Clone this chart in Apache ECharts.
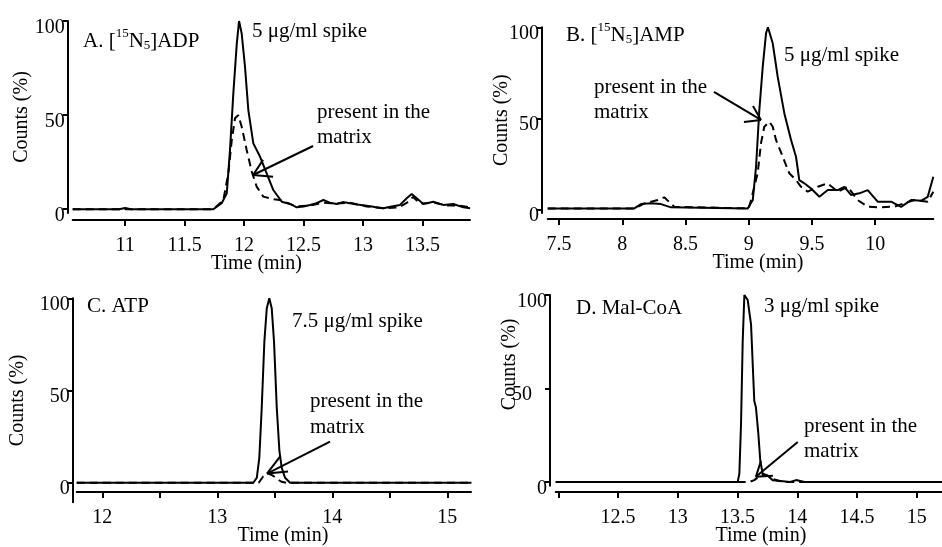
<!DOCTYPE html>
<html><head><meta charset="utf-8">
<script src="https://cdn.jsdelivr.net/npm/echarts@6/dist/echarts.min.js"></script>
<style>html,body{margin:0;padding:0;background:#fff}#c{width:942px;height:547px}</style>
</head><body><div id="c"></div>
<script>
// ---------- Panel A: [15N5]ADP ----------
const aSpikeT = [10.56, 10.95, 11.0, 11.05, 11.742, 11.812, 11.855, 11.882, 11.91, 11.939, 11.958, 11.98, 12.008, 12.036, 12.078, 12.134, 12.19, 12.246, 12.317, 12.387, 12.443, 12.5, 12.555, 12.6, 12.667, 12.72, 12.779, 12.83, 12.89, 12.95, 13.031, 13.1, 13.171, 13.24, 13.311, 13.367, 13.409, 13.451, 13.507, 13.591, 13.675, 13.759, 13.843, 13.9];
const aSpikeY = [0, 0, 0.7, 0, 0, 3.2, 8.5, 31.5, 61.6, 88, 100, 93.5, 75.7, 52.7, 35, 28, 19.1, 10.2, 4, 2.8, 1, 1.5, 2.3, 3, 4.9, 3.5, 2.8, 3.8, 3.2, 2.5, 1.9, 1.2, 0.5, 1.5, 2.3, 5.8, 8.1, 5.8, 2.8, 4, 2.3, 2.8, 1, 0.5];
const aMatrixT = [10.56, 11.742, 11.826, 11.868, 11.897, 11.924, 11.952, 11.98, 12.022, 12.065, 12.106, 12.162, 12.233, 12.30, 12.44, 12.56, 12.67, 12.78, 12.89, 13.03, 13.17, 13.3, 13.37, 13.42, 13.48, 13.59, 13.7, 13.8, 13.9];
const aMatrixY = [0, 0, 4.9, 19, 36.8, 48.3, 50, 43.9, 31.5, 20, 12, 6.7, 5.5, 4.9, 1.5, 2, 3.5, 3, 3.5, 1.5, 0.5, 1, 3.5, 6.5, 3, 3.5, 2, 2, 1];
const aTicks = [11, 11.5, 12, 12.5, 13, 13.5];
const aLabels = [11, 11.5, 12, 12.5, 13, 13.5];

// ---------- Panel B: [15N5]AMP ----------
const bSpikeT = [7.41, 8.095, 8.148, 8.227, 8.306, 8.385, 8.992, 9.032, 9.058, 9.084, 9.111, 9.137, 9.152, 9.19, 9.229, 9.282, 9.335, 9.374, 9.4, 9.44, 9.493, 9.559, 9.625, 9.704, 9.756, 9.809, 9.875, 9.941, 10.02, 10.126, 10.205, 10.284, 10.363, 10.416, 10.46];
const bSpikeY = [0.5, 0.5, 2.9, 3.3, 2.9, 1.1, 0.5, 5.1, 23.4, 54.6, 78.4, 96.7, 100, 91.2, 72.9, 52.7, 38.1, 28.9, 16.1, 14.3, 11.5, 6.9, 10.6, 10.6, 12.4, 7.9, 8.8, 10.6, 4.2, 4.2, 1.4, 5.1, 4.7, 6.9, 17.9];
const bMatrixT = [7.41, 8.1, 8.175, 8.28, 8.332, 8.411, 9.0, 9.018, 9.071, 9.097, 9.123, 9.163, 9.19, 9.216, 9.269, 9.321, 9.374, 9.414, 9.467, 9.546, 9.625, 9.704, 9.783, 9.862, 9.941, 10.047, 10.152, 10.23, 10.31, 10.416, 10.46];
const bMatrixY = [0.5, 0.5, 3.3, 5.1, 6.6, 1.4, 0.5, 5.1, 19.8, 36.3, 45.4, 48.1, 45.4, 38.1, 28.9, 19.8, 16.1, 12.4, 9.7, 12.4, 14.3, 9.7, 12.4, 5.1, 1.5, 1.1, 1.5, 3.3, 5.1, 4.2, 9.7];
const bTicks = [7.5, 8, 8.5, 9, 9.5, 10];
const bLabels = [7.5, 8, 8.5, 9, 9.5, 10];

// ---------- Panel C: ATP ----------
const cSpikeT = [11.777, 13.313, 13.343, 13.365, 13.386, 13.409, 13.43, 13.452, 13.473, 13.493, 13.517, 13.54, 13.56, 13.589, 13.632, 15.21];
const cSpikeY = [0, 0, 2.7, 13.5, 40.5, 76.5, 94.6, 100, 94.6, 76.5, 40.5, 17.1, 8.1, 2.7, 0, 0];
const cMatrixT = [11.777, 13.36, 13.40, 13.44, 13.48, 13.52, 13.56, 13.6, 15.21];
const cMatrixY = [0, 0, 3.5, 5, 4, 2, 0.5, 0, 0];
const cTicks = [12, 12.5, 13, 13.5, 14, 14.5, 15];
const cLabels = [12, 13, 14, 15];

// ---------- Panel D: Mal-CoA ----------
const dSpikeT = [11.978, 13.501, 13.515, 13.529, 13.543, 13.557, 13.585, 13.613, 13.627, 13.64, 13.654, 13.674, 13.69, 13.71, 13.752, 13.794, 13.86, 13.94, 13.99, 14.06, 15.211];
const dSpikeY = [0, 0, 4.4, 31, 75.2, 100, 97.3, 84.1, 62.8, 43.3, 39.8, 25.7, 11.5, 4.4, 3.5, 0.9, 0.5, 0, 1, 0, 0];
const dMatrixT = [11.978, 13.6, 13.64, 13.68, 13.72, 13.76, 13.8, 13.85, 13.9, 15.211];
const dMatrixY = [0, 0, 1, 3, 4, 3, 1.5, 0.5, 0, 0];
const dTicks = [12, 12.5, 13, 13.5, 14, 14.5, 15];
const dLabels = [12.5, 13, 13.5, 14, 14.5, 15];

const yTicks = [0, 50, 100];

// annotation arrows (data coordinates): [tail, tip, barb1, barb2]
const arrowA = [[12.58, 33.6], [12.076, 18.2], [12.16, 26.2], [12.244, 17.2]];
const arrowB = [[8.725, 64.5], [9.097, 49.1], [9.034, 56.8], [8.962, 48.0]];
const arrowC = [[13.98, 22.3], [13.432, 5.0], [13.545, 14.2], [13.615, 6.1]];
const arrowD = [[14.004, 21.4], [13.653, 2.8], [13.696, 11.3], [13.796, 3.3]];

const FONT = '"Liberation Serif", "Times New Roman", serif';
const FS = 20;
const TF = '21px ' + FONT;

function pairs(t, y) { return t.map((v, i) => [v, y[i]]); }
function arrowLines(a) {
  return [
    [{ coord: a[0] }, { coord: a[1] }],
    [{ coord: a[1] }, { coord: a[2] }],
    [{ coord: a[1] }, { coord: a[3] }]
  ];
}

const panels = [
  { grid: { left: 72.7, top: 21, width: 397.3, height: 192 }, xmin: 10.56, xmax: 13.899, ymin: -2, yOff: 5, xOff: 7, yNameGap: 36, xNamePad: [0, 30, 0, 0],
    spike: pairs(aSpikeT, aSpikeY), matrix: pairs(aMatrixT, aMatrixY), ticks: aTicks, labels: aLabels, arrow: arrowA },
  { grid: { left: 547.7, top: 27.3, width: 385.6, height: 185.7 }, xmin: 7.41, xmax: 10.46, ymin: -2, yOff: 5.7, xOff: 6, yNameGap: 30, xNamePad: [0, 0, 0, 35],
    spike: pairs(bSpikeT, bSpikeY), matrix: pairs(bMatrixT, bMatrixY), ticks: bTicks, labels: bLabels, arrow: arrowB },
  { grid: { left: 76.7, top: 298.3, width: 394.3, height: 204.7 }, xmin: 11.777, xmax: 15.206, ymin: -10.6, yOff: 4, xOff: -10.3, yNameGap: 45, xNamePad: [0, 0, 0, 18],
    spike: pairs(cSpikeT, cSpikeY), matrix: pairs(cMatrixT, cMatrixY), ticks: cTicks, labels: cLabels, arrow: arrowC },
  { grid: { left: 555.7, top: 295, width: 386.3, height: 192 }, xmin: 11.978, xmax: 15.211, ymin: -2, yOff: 5.7, xOff: 6.3, yNameGap: 30, xNamePad: [0, 0, 0, 24], yNamePad: [0, 0, 0, 52], shiftMid: true,
    spike: pairs(dSpikeT, dSpikeY), matrix: pairs(dMatrixT, dMatrixY), ticks: dTicks, labels: dLabels, arrow: arrowD }
];

const axLine = { show: true, onZero: false, lineStyle: { color: '#000', width: 2 } };
const labRich = {
  n: { fontFamily: FONT, fontSize: FS, color: '#000' },
  far: { fontFamily: FONT, fontSize: FS, color: '#000', padding: [0, 15, 0, 0] }
};
const option = {
  animation: false,
  backgroundColor: '#fff',
  grid: panels.map(p => Object.assign({ containLabel: false }, p.grid)),
  xAxis: panels.map((p, i) => ({
    type: 'value', gridIndex: i, min: p.xmin, max: p.xmax, position: 'bottom', offset: p.xOff,
    axisLine: axLine,
    axisTick: { show: true, length: 6, lineStyle: { color: '#000', width: 2 }, customValues: p.ticks },
    axisLabel: { customValues: p.labels, color: '#000', fontFamily: FONT, fontSize: FS, margin: 16, showMinLabel: true, showMaxLabel: true },
    splitLine: { show: false },
    name: 'Time (min)', nameLocation: 'middle', nameGap: 34, nameMoveOverlap: false,
    nameTextStyle: { color: '#000', fontFamily: FONT, fontSize: FS, padding: p.xNamePad }
  })),
  yAxis: panels.map((p, i) => ({
    type: 'value', gridIndex: i, min: p.ymin, max: 100, position: 'left', offset: p.yOff,
    axisLine: axLine,
    axisTick: { show: true, length: 5, lineStyle: { color: '#000', width: 2 }, customValues: yTicks },
    axisLabel: { customValues: yTicks, color: '#000', fontFamily: FONT, fontSize: FS, margin: 3, verticalAlign: 'top', lineHeight: 13,
      formatter: v => (p.shiftMid && v === 50) ? '{far|' + v + '}' : '{n|' + v + '}', rich: labRich },
    splitLine: { show: false },
    name: 'Counts (%)', nameLocation: 'middle', nameGap: p.yNameGap, nameMoveOverlap: false,
    nameTextStyle: { color: '#000', fontFamily: FONT, fontSize: FS, padding: p.yNamePad || 0 }
  })),
  series: panels.flatMap((p, i) => [
    { type: 'line', xAxisIndex: i, yAxisIndex: i, data: p.spike, symbol: 'none', clip: true,
      lineStyle: { color: '#000', width: 2 } },
    { type: 'line', xAxisIndex: i, yAxisIndex: i, data: p.matrix, symbol: 'none', clip: true,
      lineStyle: { color: '#000', width: 2, type: [8, 5] },
      markLine: { silent: true, symbol: ['none', 'none'], label: { show: false },
        lineStyle: { color: '#000', width: 2, type: 'solid' }, emphasis: { disabled: true },
        data: arrowLines(p.arrow) } }
  ]),
  graphic: [
    { type: 'text', left: 83, top: 25, style: { text: '{n|A. [}{sup|15}{n|N}{sub|5}{n|]ADP}', rich: richT() } },
    { type: 'text', left: 566, top: 19, style: { text: '{n|B. [}{sup|15}{n|N}{sub|5}{n|]AMP}', rich: richT() } },
    { type: 'text', left: 87, top: 296, style: { text: 'C. ATP', font: TF, fill: '#000' } },
    { type: 'text', left: 576, top: 298, style: { text: 'D. Mal-CoA', font: TF, fill: '#000' } },
    { type: 'text', left: 252, top: 21, style: { text: '5 μg/ml spike', font: TF, fill: '#000' } },
    { type: 'text', left: 784, top: 45, style: { text: '5 μg/ml spike', font: TF, fill: '#000' } },
    { type: 'text', left: 292, top: 311, style: { text: '7.5 μg/ml spike', font: TF, fill: '#000' } },
    { type: 'text', left: 764, top: 296, style: { text: '3 μg/ml spike', font: TF, fill: '#000' } },
    { type: 'text', left: 317, top: 100, style: { text: 'present in the\nmatrix', font: TF, fill: '#000', lineHeight: 25 } },
    { type: 'text', left: 594, top: 75, style: { text: 'present in the\nmatrix', font: TF, fill: '#000', lineHeight: 25 } },
    { type: 'text', left: 310, top: 388, style: { text: 'present in the\nmatrix', font: TF, fill: '#000', lineHeight: 26 } },
    { type: 'text', left: 804, top: 414, style: { text: 'present in the\nmatrix', font: TF, fill: '#000', lineHeight: 25 } }
  ]
};
function richT() {
  return {
    n: { fontFamily: FONT, fontSize: 21, color: '#000', lineHeight: 27, verticalAlign: 'bottom' },
    sup: { fontFamily: FONT, fontSize: 13, color: '#000', lineHeight: 27, verticalAlign: 'top', padding: [2, 0, 0, 0] },
    sub: { fontFamily: FONT, fontSize: 13, color: '#000', lineHeight: 27, verticalAlign: 'bottom' }
  };
}
const chart = echarts.init(document.getElementById('c'), null, { renderer: 'canvas' });
chart.setOption(option);
</script>
</body></html>
